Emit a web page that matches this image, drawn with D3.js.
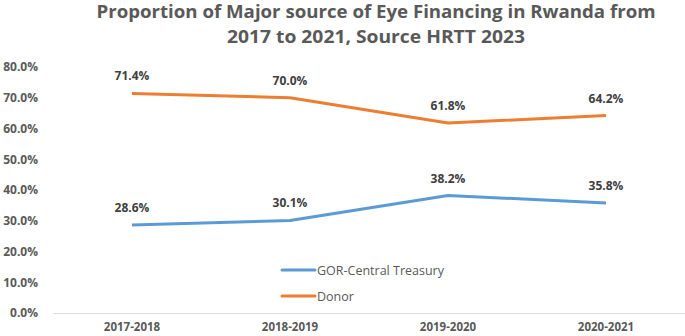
<!DOCTYPE html>
<html>
<head>
<meta charset="utf-8">
<script src="https://cdn.jsdelivr.net/npm/d3@7"></script>
<style>
  body { margin: 0; background: #fff; }
  text { font-family: "Open Sans", "DejaVu Sans", sans-serif; }
</style>
</head>
<body>
<div id="container"></div>
<script>
/* CONSTANTS AND GLOBALS */
const width = 685,
  height = 336,
  margin = {top: 67, bottom: 23, left: 53, right: 0};

/* DATA */
const periods = ["2017-2018", "2018-2019", "2019-2020", "2020-2021"];
const govValues = [28.6, 30.1, 38.2, 35.8];
const donorValues = [71.4, 70.0, 61.8, 64.2];
const yTicks = [0, 10, 20, 30, 40, 50, 60, 70, 80];
const seriesNames = ["GOR-Central Treasury", "Donor"];
const seriesColors = ["#5b9bd5", "#ed7d31"];
const titleLines = ["Proportion of Major source of Eye Financing in Rwanda from", "2017 to 2021, Source HRTT 2023"];
const titleWidths = [559, 298];

const svg = d3.select("#container")
  .append("svg")
  .attr("width", width)
  .attr("height", height);

// + SCALES
const xScale = d3.scaleBand()
  .domain(periods)
  .range([margin.left, width - margin.right]);

const yScale = d3.scaleLinear()
  .domain([0, 80])
  .range([height - margin.bottom, margin.top]);

// title (squeezed to the narrow width of the original font)
svg.append("g")
  .selectAll("text")
  .data(titleLines)
  .join("text")
  .attr("x", 376)
  .attr("y", (d, i) => 18 + i * 25)
  .attr("text-anchor", "middle")
  .attr("fill", "#595959")
  .attr("font-weight", "bold")
  .attr("font-size", 18)
  .attr("textLength", (d, i) => titleWidths[i])
  .attr("lengthAdjust", "spacingAndGlyphs")
  .text(d => d);

// + AXES
const yAxis = d3.axisLeft(yScale)
  .tickValues(yTicks)
  .tickFormat(d => d.toFixed(1) + "%")
  .tickSize(0)
  .tickPadding(15);

const yAxisGroup = svg.append("g")
  .attr("transform", `translate(${margin.left}, 0)`)
  .call(yAxis);
yAxisGroup.select(".domain").remove();
yAxisGroup.selectAll("text")
  .attr("fill", "#595959")
  .attr("font-size", 12)
  .attr("font-weight", "bold");

const xAxis = d3.axisBottom(xScale).tickSize(0).tickPadding(10);
const xAxisGroup = svg.append("g")
  .attr("transform", `translate(0, ${yScale(0)})`)
  .call(xAxis);
xAxisGroup.select(".domain").attr("stroke", "#d9d9d9").attr("stroke-width", 1.2);
xAxisGroup.selectAll("text")
  .attr("fill", "#595959")
  .attr("font-size", 11.5)
  .attr("font-weight", "bold");

// + LINES
const line = d3.line()
  .x((d, i) => xScale(periods[i]) + xScale.bandwidth() / 2)
  .y(d => yScale(d));

const series = [govValues, donorValues];

series.forEach((vals, s) => {
  svg.append("path")
    .datum(vals)
    .attr("fill", "none")
    .attr("stroke", seriesColors[s])
    .attr("stroke-width", 3)
    .attr("stroke-linejoin", "round")
    .attr("d", line);

  svg.selectAll(".lbl" + s)
    .data(vals)
    .join("text")
    .attr("class", "lbl" + s)
    .attr("x", (d, i) => xScale(periods[i]) + xScale.bandwidth() / 2)
    .attr("y", d => yScale(d) - 13)
    .attr("text-anchor", "middle")
    .attr("fill", "#404040")
    .attr("font-size", 12)
    .attr("font-weight", "bold")
    .text(d => d.toFixed(1) + "%");
});

// + LEGEND
const legend = svg.append("g").attr("transform", "translate(282, 270)");
seriesNames.forEach((name, i) => {
  const g = legend.append("g").attr("transform", `translate(0, ${i * 26})`);
  g.append("line")
    .attr("x1", 0).attr("x2", 33)
    .attr("stroke", seriesColors[i])
    .attr("stroke-width", 3)
    .attr("stroke-linecap", "round");
  g.append("text")
    .attr("x", 35)
    .attr("y", 4.5)
    .attr("fill", "#595959")
    .attr("font-size", 12.5)
    .text(name);
});
</script>
</body>
</html>
